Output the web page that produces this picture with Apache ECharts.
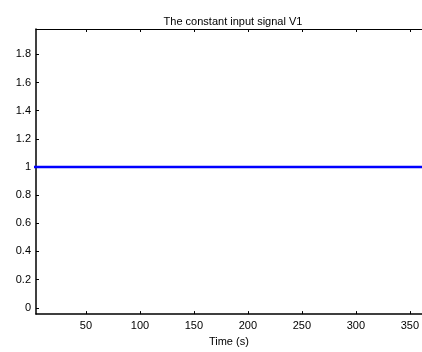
<!DOCTYPE html>
<html>
<head>
<meta charset="utf-8">
<script src="https://cdn.jsdelivr.net/npm/echarts@6/dist/echarts.min.js"></script>
<style>
  html, body { margin: 0; padding: 0; background: #fff; }
  #chart { width: 422px; height: 352px; }
</style>
</head>
<body>
<div id="chart"></div>
<script>
// Constant input signal V1 over the simulation time
const time = [0, 362];
const v1 = [1, 1];
const xTicks = [50, 100, 150, 200, 250, 300, 350];
const yTicks = [0, 0.2, 0.4, 0.6, 0.8, 1, 1.2, 1.4, 1.6, 1.8];

const font = 'Liberation Sans, Arial, sans-serif';
const chart = echarts.init(document.getElementById('chart'), null, { renderer: 'canvas' });

const xMin = 3.7, xMax = 361;
const yMin = -0.045, yMax = 1.98;

const tickStyle = { show: true, inside: true, length: 3, lineStyle: { color: '#000', width: 1 } };

chart.setOption({
  animation: false,
  backgroundColor: '#fff',
  title: {
    text: 'The constant input signal V1',
    left: 228, top: 11, textAlign: 'center',
    textStyle: { fontFamily: font, fontSize: 11, fontWeight: 'normal', color: '#000' }
  },
  grid: { left: 36, top: 29, width: 386, height: 291, containLabel: false },
  xAxis: [{
    type: 'value', min: xMin, max: xMax, position: 'bottom',
    name: 'Time (s)', nameLocation: 'middle', nameGap: 19,
    nameTextStyle: { fontFamily: font, fontSize: 11, color: '#000' },
    axisLine: { show: true, onZero: false, lineStyle: { color: '#000', width: 1.5 } },
    axisTick: Object.assign({ customValues: xTicks }, tickStyle),
    axisLabel: { customValues: xTicks, fontFamily: font, fontSize: 11, color: '#000', margin: 6 },
    splitLine: { show: false }
  }, {
    type: 'value', min: xMin, max: xMax, position: 'top',
    axisLine: { show: true, onZero: false, lineStyle: { color: '#000', width: 1 } },
    axisTick: Object.assign({ customValues: xTicks }, tickStyle),
    axisLabel: { show: false },
    splitLine: { show: false }
  }],
  yAxis: {
    type: 'value', min: yMin, max: yMax,
    axisLine: { show: true, onZero: false, lineStyle: { color: '#000', width: 1.5 } },
    axisTick: Object.assign({ customValues: yTicks }, tickStyle),
    axisLabel: { customValues: yTicks, fontFamily: font, fontSize: 11, color: '#000', margin: 5 },
    splitLine: { show: false }
  },
  series: [{
    type: 'line',
    data: time.map((t, i) => [t, v1[i]]),
    showSymbol: false,
    clip: true,
    lineStyle: { color: '#0000ff', width: 2.5 }
  }]
});
</script>
</body>
</html>
